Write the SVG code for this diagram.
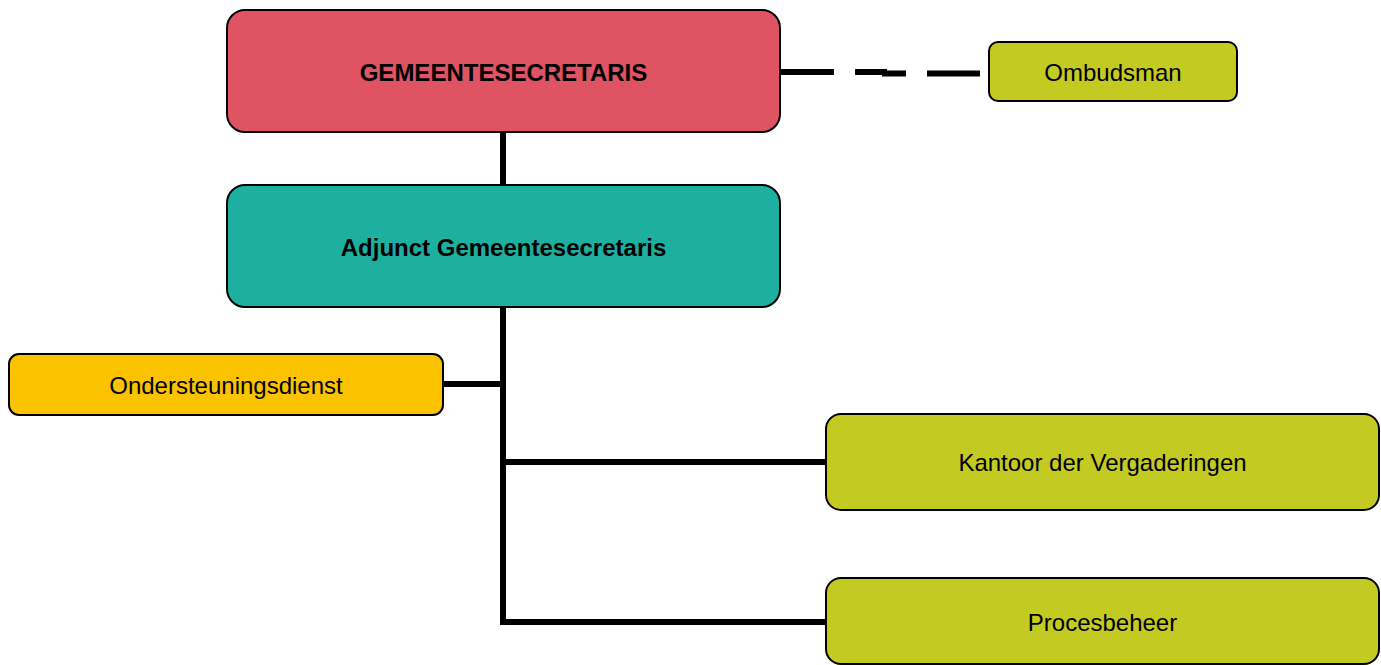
<svg xmlns="http://www.w3.org/2000/svg" width="1381" height="665" viewBox="0 0 1381 665">
<style>
.box{stroke:#000;stroke-width:2}
.t{font-family:"Liberation Sans",Arial,sans-serif;font-size:24px;fill:#000;text-anchor:middle;dominant-baseline:central}
.b{font-weight:bold}
.c{fill:none;stroke:#000;stroke-width:6}
</style>
<rect width="1381" height="665" fill="#fff"/>
<g id="connectors">
<line class="c" x1="503" y1="132" x2="503" y2="186"/>
<polyline class="c" points="503,306 503,622 827,622"/>
<line class="c" x1="443" y1="384" x2="503" y2="384"/>
<line class="c" x1="503" y1="462" x2="827" y2="462"/>
<line class="c" x1="781" y1="72" x2="887" y2="72" stroke-dasharray="53 21 32 100"/>
<line class="c" x1="882" y1="73.5" x2="990" y2="73.5" stroke-dasharray="24 21 53 100"/>
</g>
<g id="gemeentesecretaris">
<rect class="box" x="227" y="10" width="553" height="122" rx="18" fill="#E05362"/>
<text class="t b" x="503.5" y="72">GEMEENTESECRETARIS</text>
</g>
<g id="adjunct">
<rect class="box" x="227" y="185" width="553" height="122" rx="18" fill="#1DB0A0"/>
<text class="t b" x="503.5" y="247">Adjunct Gemeentesecretaris</text>
</g>
<g id="ombudsman">
<rect class="box" x="989" y="42" width="248" height="59" rx="9" fill="#C3CA22"/>
<text class="t" x="1113" y="72">Ombudsman</text>
</g>
<g id="ondersteuningsdienst">
<rect class="box" x="9" y="354" width="434" height="61" rx="10" fill="#FBC200"/>
<text class="t" x="226" y="385">Ondersteuningsdienst</text>
</g>
<g id="kantoor">
<rect class="box" x="826" y="414" width="553" height="96" rx="15" fill="#C3CA22"/>
<text class="t" x="1102.5" y="462">Kantoor der Vergaderingen</text>
</g>
<g id="procesbeheer">
<rect class="box" x="826" y="578" width="553" height="86" rx="15" fill="#C3CA22"/>
<text class="t" x="1102.5" y="622">Procesbeheer</text>
</g>
</svg>
